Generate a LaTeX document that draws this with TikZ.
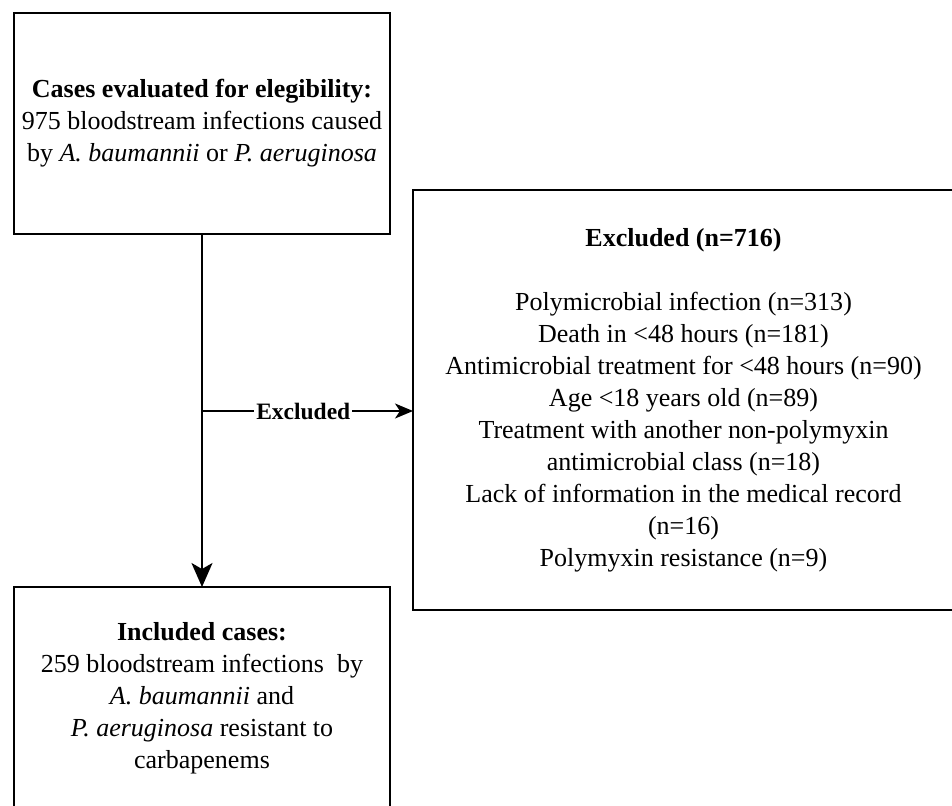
\documentclass[tikz,border=0pt]{standalone}
\usepackage{fontspec}
\setmainfont{Liberation Serif}
\usetikzlibrary{arrows.meta}
\begin{document}
\begin{tikzpicture}[x=1pt,y=-1pt,
  box/.style={draw, line width=2pt, rectangle, inner sep=0pt, outer sep=0pt, align=center,
    font=\fontsize{26}{32}\selectfont},
  conn/.style={line width=2pt},
  bigarrow/.style={conn, -{Stealth[length=24pt,width=21pt,inset=6pt]}},
  smallarrow/.style={conn, -{Stealth[length=18pt,width=15pt,inset=5pt]}},
  lbl/.style={fill=white, inner sep=2pt, font=\fontsize{23.5}{28}\selectfont\bfseries}]
\useasboundingbox (0,0) rectangle (952,805);
\node[box, minimum width=376pt, minimum height=221pt] (top) at (202,123.5)
  {\textbf{Cases evaluated for elegibility:}\\975 bloodstream infections caused\\by \textit{A. baumannii} or \textit{P. aeruginosa}};
\node[box, minimum width=541pt, minimum height=420pt] (rb) at (683.5,400)
  {\textbf{Excluded (n=716)}\\[32pt]
   Polymicrobial infection (n=313)\\
   Death in <48 hours (n=181)\\
   Antimicrobial treatment for <48 hours (n=90)\\
   Age <18 years old (n=89)\\
   Treatment with another non-polymyxin\\
   antimicrobial class (n=18)\\
   Lack of information in the medical record\\
   (n=16)\\
   Polymyxin resistance (n=9)};
\node[box, minimum width=376pt, minimum height=222pt] (bot) at (202,698)
  {\textbf{Included cases:}\\259 bloodstream infections\ \ by\\\textit{A. baumannii} and\\\textit{P. aeruginosa} resistant to\\carbapenems};
\draw[bigarrow] (top.south) -- (bot.north);
\coordinate (j) at (202,411);
\draw[smallarrow] (j) -- (j -| rb.west) node[lbl, pos=0.48] {Excluded};
\end{tikzpicture}
\end{document}
